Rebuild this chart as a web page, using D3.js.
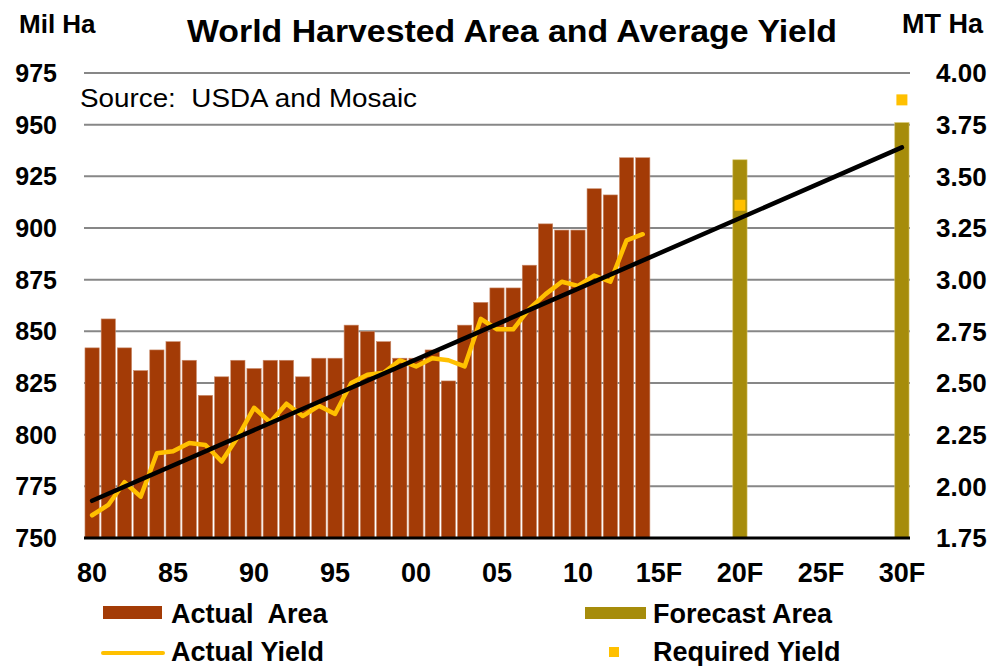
<!DOCTYPE html>
<html>
<head>
<meta charset="utf-8">
<script src="https://cdn.jsdelivr.net/npm/d3@7"></script>
<style>
  html, body { margin: 0; padding: 0; background: #fff; }
  svg { display: block; font-family: "Liberation Sans", Arial, sans-serif; }
  text { white-space: pre; }
</style>
</head>
<body>
<svg id="chart" width="992" height="666"></svg>
<script>
// World harvested area (million ha) and average yield (MT/ha)
const years = [1980,1981,1982,1983,1984,1985,1986,1987,1988,1989,
               1990,1991,1992,1993,1994,1995,1996,1997,1998,1999,
               2000,2001,2002,2003,2004,2005,2006,2007,2008,2009,
               2010,2011,2012,2013,2014,2015,2016,2017,2018,2019,
               2020,2021,2022,2023,2024,2025,2026,2027,2028,2029,2030];

const actualYears = years.slice(0, 35);
const actualArea = [842, 856, 842, 831, 841, 845, 836, 819, 828, 836,
                    832, 836, 836, 828, 837, 837, 853, 850, 845, 837,
                    837, 841, 826, 853, 864, 871, 871, 882, 902, 899,
                    899, 919, 916, 934, 934];
const actualYield = [1.86, 1.91, 2.02, 1.95, 2.16, 2.17, 2.21, 2.20, 2.12, 2.24,
                     2.38, 2.31, 2.40, 2.34, 2.39, 2.35, 2.50, 2.54, 2.55, 2.61,
                     2.58, 2.62, 2.61, 2.58, 2.81, 2.76, 2.76, 2.86, 2.93, 2.99,
                     2.97, 3.02, 2.99, 3.19, 3.22];

const forecastYears = [2020, 2030];
const forecastArea = [933, 951];
const requiredYield = [3.36, 3.87];

const trendYears = [1980, 2030];
const trendYield = [1.93, 3.64];

const areaTicks = [750, 775, 800, 825, 850, 875, 900, 925, 950, 975];
const yieldTicks = [1.75, 2.00, 2.25, 2.50, 2.75, 3.00, 3.25, 3.50, 3.75, 4.00];
const xTickYears = [1980, 1985, 1990, 1995, 2000, 2005, 2010, 2015, 2020, 2025, 2030];
const xTickLabels = ["80", "85", "90", "95", "00", "05", "10", "15F", "20F", "25F", "30F"];

const colors = {
  actualArea: "#A33B06",
  forecastArea: "#A68C0B",
  actualYield: "#FFC000",
  requiredYield: "#FFC000",
  trend: "#000000",
  grid: "#878787"
};

const svg = d3.select("#chart");
const plot = { left: 84, right: 910, top: 73, bottom: 538 };

const x = d3.scaleBand()
  .domain(years)
  .range([plot.left, plot.right])
  .paddingInner(0.12)
  .paddingOuter(0.06);

const yArea = d3.scaleLinear().domain([750, 975]).range([plot.bottom, plot.top]);
const yYield = d3.scaleLinear().domain([1.75, 4.00]).range([plot.bottom, plot.top]);
const cx = yr => x(yr) + x.bandwidth() / 2;

// horizontal gridlines
svg.append("g")
  .selectAll("line")
  .data(areaTicks.slice(1))
  .join("line")
  .attr("x1", plot.left).attr("x2", plot.right)
  .attr("y1", d => yArea(d)).attr("y2", d => yArea(d))
  .attr("stroke", colors.grid).attr("stroke-width", 2);

// actual area bars
svg.append("g")
  .selectAll("rect")
  .data(actualYears.map((yr, i) => ({ yr, v: actualArea[i] })))
  .join("rect")
  .attr("x", d => x(d.yr))
  .attr("width", x.bandwidth())
  .attr("y", d => yArea(d.v))
  .attr("height", d => yArea(750) - yArea(d.v))
  .attr("fill", colors.actualArea)
  .attr("stroke", "#c98a6a").attr("stroke-width", 0.6);

// forecast area bars
svg.append("g")
  .selectAll("rect")
  .data(forecastYears.map((yr, i) => ({ yr, v: forecastArea[i] })))
  .join("rect")
  .attr("x", d => x(d.yr))
  .attr("width", x.bandwidth())
  .attr("y", d => yArea(d.v))
  .attr("height", d => yArea(750) - yArea(d.v))
  .attr("fill", colors.forecastArea)
  .attr("stroke", "#d6c56a").attr("stroke-width", 0.6);

// actual yield line
svg.append("path")
  .datum(actualYears.map((yr, i) => [cx(yr), yYield(actualYield[i])]))
  .attr("d", d3.line())
  .attr("fill", "none")
  .attr("stroke", colors.actualYield)
  .attr("stroke-width", 4.5)
  .attr("stroke-linejoin", "round")
  .attr("stroke-linecap", "round");

// yield trend
svg.append("path")
  .datum(trendYears.map((yr, i) => [cx(yr), yYield(trendYield[i])]))
  .attr("d", d3.line())
  .attr("fill", "none")
  .attr("stroke", colors.trend)
  .attr("stroke-width", 4.5)
  .attr("stroke-linecap", "round");

// required yield markers
const mk = 11;
svg.append("g")
  .selectAll("rect")
  .data(forecastYears.map((yr, i) => ({ yr, v: requiredYield[i] })))
  .join("rect")
  .attr("x", d => cx(d.yr) - mk / 2)
  .attr("y", d => yYield(d.v) - mk / 2)
  .attr("width", mk).attr("height", mk)
  .attr("fill", colors.requiredYield);

// category axis baseline
svg.append("line")
  .attr("x1", plot.left).attr("x2", plot.right)
  .attr("y1", plot.bottom).attr("y2", plot.bottom)
  .attr("stroke", "#000").attr("stroke-width", 3);

// left axis labels
const leftAxis = d3.axisLeft(yArea).tickValues(areaTicks).tickSize(0).tickPadding(0)
  .tickFormat(d3.format("d"));
svg.append("g")
  .attr("transform", `translate(57,0)`)
  .call(leftAxis)
  .call(g => g.select(".domain").remove())
  .call(g => g.selectAll("text")
    .attr("dy", "0.34em")
    .attr("font-family", "'Liberation Sans', Arial, sans-serif")
    .attr("font-size", 25).attr("font-weight", "bold").attr("fill", "#000"));

// right axis labels
const rightAxis = d3.axisRight(yYield).tickValues(yieldTicks).tickSize(0).tickPadding(0)
  .tickFormat(d3.format(".2f"));
svg.append("g")
  .attr("transform", `translate(936,0)`)
  .call(rightAxis)
  .call(g => g.select(".domain").remove())
  .call(g => g.selectAll("text")
    .attr("dy", "0.34em")
    .attr("font-family", "'Liberation Sans', Arial, sans-serif")
    .attr("font-size", 26).attr("font-weight", "bold").attr("fill", "#000"));

// year labels
const bottomAxis = d3.axisBottom(x).tickValues(xTickYears).tickSize(0).tickPadding(0)
  .tickFormat(d => xTickLabels[xTickYears.indexOf(d)]);
svg.append("g")
  .attr("transform", `translate(0,563)`)
  .call(bottomAxis)
  .call(g => g.select(".domain").remove())
  .call(g => g.selectAll("text")
    .attr("dy", "0.71em")
    .attr("font-family", "'Liberation Sans', Arial, sans-serif")
    .attr("font-size", 27).attr("font-weight", "bold").attr("fill", "#000"));

// titles
svg.append("text")
  .attr("x", 187).attr("y", 42)
  .attr("textLength", 650).attr("lengthAdjust", "spacingAndGlyphs")
  .attr("font-size", 31).attr("font-weight", "bold")
  .text("World Harvested Area and Average Yield");

svg.append("text")
  .attr("x", 19).attr("y", 33)
  .attr("font-size", 26).attr("font-weight", "bold")
  .text("Mil Ha");

svg.append("text")
  .attr("x", 902).attr("y", 33)
  .attr("font-size", 27).attr("font-weight", "bold")
  .text("MT Ha");

svg.append("text")
  .attr("x", 80).attr("y", 107)
  .attr("textLength", 337).attr("lengthAdjust", "spacingAndGlyphs")
  .attr("font-size", 25)
  .text("Source:  USDA and Mosaic");

// legend
const legend = svg.append("g").attr("font-size", 27).attr("font-weight", "bold");
legend.append("rect").attr("x", 103).attr("y", 606).attr("width", 59).attr("height", 13)
  .attr("fill", colors.actualArea);
legend.append("text").attr("x", 171).attr("y", 623).text("Actual  Area");

legend.append("line").attr("x1", 103).attr("x2", 163).attr("y1", 653).attr("y2", 653)
  .attr("stroke", colors.actualYield).attr("stroke-width", 4).attr("stroke-linecap", "round");
legend.append("text").attr("x", 171).attr("y", 661).text("Actual Yield");

legend.append("rect").attr("x", 585).attr("y", 607).attr("width", 61).attr("height", 12)
  .attr("fill", colors.forecastArea);
legend.append("text").attr("x", 653).attr("y", 623).text("Forecast Area");

legend.append("rect").attr("x", 609).attr("y", 647).attr("width", 10).attr("height", 10)
  .attr("fill", colors.requiredYield);
legend.append("text").attr("x", 653).attr("y", 661).text("Required Yield");
</script>
</body>
</html>
